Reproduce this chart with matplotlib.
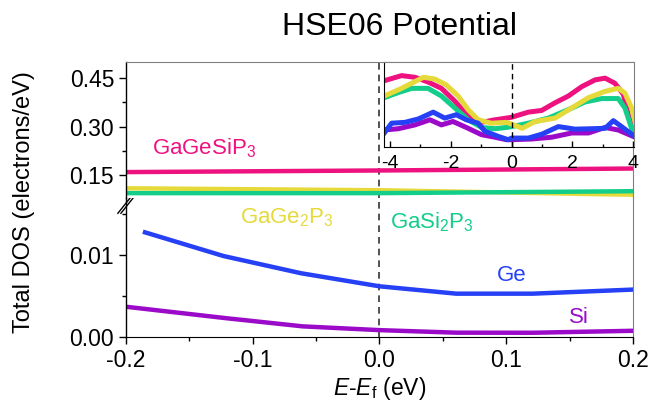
import numpy as np
import matplotlib
matplotlib.use("Agg")
import matplotlib.pyplot as plt
from matplotlib.ticker import MultipleLocator, FormatStrFormatter

plt.rcParams['font.family'] = ['Liberation Sans', 'DejaVu Sans']
plt.rcParams['mathtext.fontset'] = 'custom'
plt.rcParams['mathtext.rm'] = 'Liberation Sans'
plt.rcParams['mathtext.it'] = 'Liberation Sans:italic'
plt.rcParams['axes.unicode_minus'] = False

# main panel data (E - Ef in eV, DOS in electrons/eV)
e_top = [-0.2, 0.0, 0.2]
dos_gagesip3 = [0.160, 0.165, 0.171]
dos_gage2p3 = [0.110, 0.104, 0.090]
dos_gasi2p3 = [0.095, 0.095, 0.101]

e_ge = [-0.185, -0.123, -0.062, 0.0, 0.0605, 0.121, 0.2]
dos_ge = [0.0128, 0.0099, 0.0078, 0.0062, 0.0053, 0.0053, 0.0058]
e_si = [-0.2, -0.121, -0.0605, 0.0, 0.0605, 0.121, 0.2]
dos_si = [0.0037, 0.0023, 0.0013, 0.00084, 0.00053, 0.00052, 0.00076]

# inset data (wide energy window, arbitrary units)
in_pink_x = [-4.19, -3.62, -3.18, -2.75, -2.31, -1.87, -1.43, -0.99, -0.55, -0.17,
             0.0, 0.55, 0.99, 1.43, 1.87, 2.31, 2.75, 3.08, 3.40, 3.68, 3.84, 4.0, 4.1]
in_pink_y = [0.78, 0.84, 0.82, 0.765, 0.69, 0.54, 0.36, 0.29, 0.32, 0.34,
             0.35, 0.41, 0.43, 0.52, 0.60, 0.71, 0.79, 0.81, 0.75, 0.62, 0.38, 0.19, 0.14]
in_yel_x = [-4.19, -3.62, -3.18, -2.9, -2.53, -2.15, -1.76, -1.43, -1.10, -0.66, -0.17,
            0.0, 0.35, 0.77, 1.43, 1.98, 2.53, 3.08, 3.51, 3.73, 3.95, 4.1]
in_yel_y = [0.60, 0.69, 0.77, 0.82, 0.80, 0.73, 0.60, 0.44, 0.32, 0.28, 0.29,
            0.27, 0.22, 0.30, 0.34, 0.46, 0.58, 0.655, 0.69, 0.635, 0.46, 0.25]
in_grn_x = [-4.19, -3.73, -3.29, -2.75, -2.31, -1.87, -1.43, -0.99, -0.55, -0.17,
            0.0, 0.55, 1.21, 1.87, 2.42, 2.97, 3.51, 3.73, 3.95, 4.1]
in_grn_y = [0.58, 0.64, 0.69, 0.69, 0.60, 0.46, 0.32, 0.23, 0.215, 0.23,
            0.24, 0.28, 0.34, 0.44, 0.53, 0.57, 0.57, 0.46, 0.22, 0.13]
in_blu_x = [-4.19, -3.95, -3.51, -3.07, -2.58, -2.2, -1.82, -1.49, -1.1, -0.88, -0.44, -0.11,
            0.0, 0.55, 0.99, 1.54, 2.09, 2.64, 3.08, 3.35, 3.62, 4.05]
in_blu_y = [0.165, 0.28, 0.29, 0.33, 0.41, 0.34, 0.38, 0.32, 0.28, 0.185, 0.125, 0.086,
            0.105, 0.105, 0.15, 0.24, 0.21, 0.215, 0.22, 0.31, 0.24, 0.125]
in_pur_x = [-4.19, -3.73, -3.18, -2.69, -2.31, -1.93, -1.49, -0.99, -0.55, -0.17,
            0.0, 0.66, 1.32, 1.98, 2.53, 3.08, 3.51, 4.0]
in_pur_y = [0.20, 0.215, 0.26, 0.32, 0.26, 0.30, 0.23, 0.145, 0.115, 0.086,
            0.086, 0.094, 0.115, 0.165, 0.165, 0.23, 0.20, 0.125]

pink = '#EE1180'
yellow = '#E6D93A'
green = '#12CE8A'
blue = '#2540F5'
purple = '#9B0AC8'
grey = '#808080'

fig = plt.figure(figsize=(6.54, 4.05), dpi=100)
L, R = 126 / 654, 633 / 654
ax_lo = fig.add_axes([L, 68 / 405, R - L, 139 / 405])
ax_hi = fig.add_axes([L, 207 / 405, R - L, 136 / 405])

lw = 3.2
ax_hi.plot(e_top, dos_gagesip3, color=pink, lw=lw)
ax_hi.plot(e_top, dos_gage2p3, color=yellow, lw=lw)
ax_hi.plot(e_top, dos_gasi2p3, color=green, lw=lw)
ax_lo.plot(e_ge, dos_ge, color=blue, lw=lw)
ax_lo.plot(e_si, dos_si, color=purple, lw=lw)

for ax in (ax_lo, ax_hi):
    ax.axvline(0, color='#333333', ls=(0, (4, 3)), lw=1.2, zorder=0)
    ax.set_xlim(-0.2, 0.2)
    ax.spines['left'].set_linewidth(1.0)
    ax.spines['right'].set_color(grey)
    ax.tick_params(axis='both', direction='out', labelsize=16.5, length=5, width=1)
    ax.tick_params(which='minor', direction='out', length=3, width=1)

ax_hi.set_ylim(0.08, 0.50)
ax_hi.spines['bottom'].set_visible(False)
ax_hi.spines['top'].set_color(grey)
ax_hi.tick_params(axis='x', which='both', bottom=False, labelbottom=False)
ax_hi.yaxis.set_major_locator(MultipleLocator(0.15))
ax_hi.yaxis.set_minor_locator(MultipleLocator(0.075))
ax_hi.yaxis.set_major_formatter(FormatStrFormatter('%.2f'))

ax_lo.set_ylim(0, 0.017)
ax_lo.spines['top'].set_visible(False)
ax_lo.yaxis.set_major_locator(MultipleLocator(0.01))
ax_lo.yaxis.set_minor_locator(MultipleLocator(0.005))
ax_lo.yaxis.set_major_formatter(FormatStrFormatter('%.2f'))
ax_lo.xaxis.set_major_locator(MultipleLocator(0.1))
ax_lo.xaxis.set_minor_locator(MultipleLocator(0.05))
ax_lo.xaxis.set_major_formatter(FormatStrFormatter('%.1f'))
ax_lo.set_xlabel(r'$\it{E}$-$\it{E}_\mathrm{f}$ (eV)', fontsize=16.5, labelpad=2)

# axis break marks
for dx in (0.0, 0.006):
    ax_lo.plot([-0.016 + dx, 0.008 + dx], [0.89, 1.0], transform=ax_lo.transAxes,
               color='black', lw=1.0, clip_on=False)

fig.text(0.037, 203 / 405, 'Total DOS (electrons/eV)', rotation=90,
         ha='center', va='center', fontsize=17)
fig.text(399 / 654, 1 - 27 / 405, 'HSE06 Potential', ha='center', va='center', fontsize=23)

# curve labels
ax_hi.text(-0.1795, 0.214, r'GaGeSiP$_3$', color=pink, fontsize=16)
ax_lo.text(-0.110, 0.0139, r'GaGe$_2$P$_3$', color=yellow, fontsize=16)
ax_lo.text(0.0085, 0.0133, r'GaSi$_2$P$_3$', color=green, fontsize=16)
ax_lo.text(0.0925, 0.0068, 'Ge', color=blue, fontsize=16)
ax_lo.text(0.1496, 0.0017, 'Si', color=purple, fontsize=16)

# inset
axin = fig.add_axes([384 / 654, 258 / 405, 250 / 654, 85 / 405])
ilw = 3.6
axin.plot(in_pink_x, in_pink_y, color=pink, lw=ilw)
axin.plot(in_grn_x, in_grn_y, color=green, lw=ilw)
axin.plot(in_yel_x, in_yel_y, color=yellow, lw=ilw)
axin.plot(in_pur_x, in_pur_y, color=purple, lw=ilw)
axin.plot(in_blu_x, in_blu_y, color=blue, lw=ilw)
axin.axvline(0, color='black', ls=(0, (4, 3)), lw=1.0)
axin.set_xlim(-4.2, 4.03)
axin.set_ylim(0, 1)
axin.set_yticks([])
axin.xaxis.set_major_locator(MultipleLocator(2))
axin.xaxis.set_minor_locator(MultipleLocator(1))
axin.tick_params(axis='x', direction='in', labelsize=14, length=4, width=1, pad=6)
axin.tick_params(axis='x', which='minor', direction='in', length=2.5, width=1)
axin.spines['top'].set_color(grey)
axin.spines['right'].set_color(grey)

fig.savefig('out.png', dpi=100)
